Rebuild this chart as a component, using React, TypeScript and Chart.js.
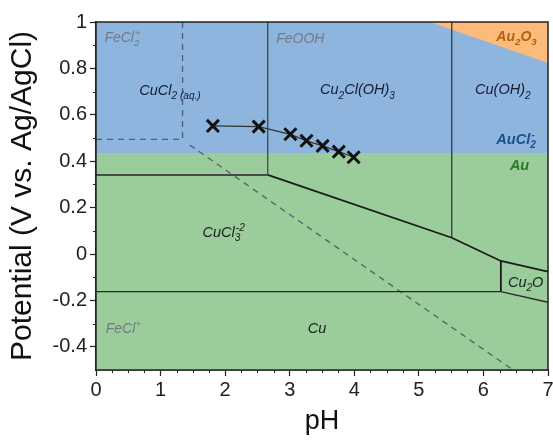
import { useEffect, useRef } from 'react';
import { Chart, registerables } from 'chart.js';

Chart.register(...registerables);

// ---------- axis ticks ----------
const X_TICKS = [0, 1, 2, 3, 4, 5, 6, 7];
const X_TICK_LABELS = ['0', '1', '2', '3', '4', '5', '6', '7'];
const Y_TICKS = [-0.4, -0.2, 0, 0.2, 0.4, 0.6, 0.8, 1];
const Y_TICK_LABELS = ['-0.4', '-0.2', '0', '0.2', '0.4', '0.6', '0.8', '1'];

// ---------- measured points (x markers) ----------
const MEAS_PH = [1.81, 2.52, 3.01, 3.26, 3.51, 3.76, 3.99];
const MEAS_E = [0.552, 0.549, 0.516, 0.488, 0.466, 0.441, 0.417];

// ---------- gold regions ----------
const AU_BOUND_PH = [0, 7];
const AU_BOUND_E = [0.435, 0.435];
const AU2O3_PH = [5.17, 7];
const AU2O3_E = [1, 0.823];

// ---------- copper boundaries (solid) ----------
const CUCL_H_PH = [0, 2.66];
const CUCL_H_E = [0.341, 0.341];
const FEOOH_V_PH = [2.66, 2.66];
const FEOOH_V_E = [1, 0.341];
const CU_DIAG_PH = [2.66, 5.51, 6.27, 7];
const CU_DIAG_E = [0.341, 0.07, -0.03, -0.076];
const CUOH_V_PH = [5.51, 5.51];
const CUOH_V_E = [1, 0.07];
const CU2O_V_PH = [6.27, 6.27];
const CU2O_V_E = [-0.03, -0.162];
const CU_H_PH = [0, 6.27, 7];
const CU_H_E = [-0.162, -0.162, -0.208];

// ---------- iron boundaries (dashed) ----------
const FE_H_PH = [0, 1.34];
const FE_H_E = [0.494, 0.494];
const FE_V_PH = [1.34, 1.34];
const FE_V_E = [1, 0.494];
const FE_DIAG_PH = [1.45, 6.46];
const FE_DIAG_E = [0.47, -0.5];

const pts = (xs: number[], ys: number[]) => xs.map((x, i) => ({ x, y: ys[i] }));

type Seg = { t: string; s?: 'sub' | 'sup' | 'subsup'; t2?: string };
type Lbl = { x: number; y: number; color: string; bold?: boolean; size: number; segs: Seg[] };

const GREY = '#727a84';
const NAVY = '#141c33';
const DARK = '#15201a';

const LABELS: Lbl[] = [
  { x: 0.13, y: 0.914, color: GREY, size: 14, segs: [{ t: 'FeCl' }, { t: '2', s: 'subsup', t2: '+' }] },
  { x: 2.79, y: 0.909, color: GREY, size: 14, segs: [{ t: 'FeOOH' }] },
  { x: 6.2, y: 0.918, color: '#b3600f', bold: true, size: 14, segs: [{ t: 'Au' }, { t: '2', s: 'sub' }, { t: 'O' }, { t: '3', s: 'sub' }] },
  { x: 0.67, y: 0.685, color: NAVY, size: 14.5, segs: [{ t: 'CuCl' }, { t: '2', s: 'sub' }, { t: ' (aq.)', s: 'sub' }] },
  { x: 3.47, y: 0.688, color: NAVY, size: 14.5, segs: [{ t: 'Cu' }, { t: '2', s: 'sub' }, { t: 'Cl(OH)' }, { t: '3', s: 'sub' }] },
  { x: 5.87, y: 0.688, color: NAVY, size: 14.5, segs: [{ t: 'Cu(OH)' }, { t: '2', s: 'sub' }] },
  { x: 6.2, y: 0.474, color: '#1d4f8e', bold: true, size: 14.5, segs: [{ t: 'AuCl' }, { t: '2', s: 'subsup', t2: '-' }] },
  { x: 6.41, y: 0.362, color: '#2c7a2e', bold: true, size: 14.5, segs: [{ t: 'Au' }] },
  { x: 1.65, y: 0.073, color: DARK, size: 14.5, segs: [{ t: 'CuCl' }, { t: '3', s: 'subsup', t2: '-2' }] },
  { x: 6.38, y: -0.142, color: DARK, size: 14.5, segs: [{ t: 'Cu' }, { t: '2', s: 'sub' }, { t: 'O' }] },
  { x: 0.15, y: -0.34, color: GREY, size: 14, segs: [{ t: 'FeCl' }, { t: '+', s: 'sup' }] },
  { x: 3.28, y: -0.34, color: DARK, size: 14.5, segs: [{ t: 'Cu' }] },
];

const FONT = '"Liberation Sans", Arial, sans-serif';

const labelPlugin = {
  id: 'labels',
  afterDatasetsDraw(chart: any) {
    const { ctx, scales } = chart;
    const xs = scales.x;
    const ys = scales.y;
    ctx.save();
    ctx.textBaseline = 'alphabetic';
    ctx.textAlign = 'left';
    for (const l of LABELS) {
      let cx = xs.getPixelForValue(l.x);
      const by = ys.getPixelForValue(l.y);
      const w = l.bold ? 'bold ' : '';
      const big = `italic ${w}${l.size}px ${FONT}`;
      const small = `italic ${w}${(l.size * 0.7).toFixed(1)}px ${FONT}`;
      ctx.fillStyle = l.color;
      for (const s of l.segs) {
        if (!s.s) {
          ctx.font = big;
          ctx.fillText(s.t, cx, by);
          cx += ctx.measureText(s.t).width;
        } else if (s.s === 'sub') {
          ctx.font = small;
          ctx.fillText(s.t, cx, by + l.size * 0.3);
          cx += ctx.measureText(s.t).width;
        } else if (s.s === 'sup') {
          ctx.font = small;
          ctx.fillText(s.t, cx, by - l.size * 0.45);
          cx += ctx.measureText(s.t).width;
        } else {
          ctx.font = small;
          ctx.fillText(s.t, cx, by + l.size * 0.3);
          const w1 = ctx.measureText(s.t).width;
          const t2 = s.t2 || '';
          ctx.fillText(t2, cx + 1, by - l.size * 0.45);
          const w2 = ctx.measureText(t2).width + 1;
          cx += Math.max(w1, w2);
        }
      }
    }
    ctx.restore();
  },
};

const framePlugin = {
  id: 'frame',
  afterDraw(chart: any) {
    const { ctx, chartArea: a, scales } = chart;
    ctx.save();
    ctx.strokeStyle = '#222';
    ctx.lineWidth = 1.5;
    ctx.strokeRect(a.left, a.top, a.right - a.left, a.bottom - a.top);
    // minor ticks
    ctx.lineWidth = 1;
    ctx.beginPath();
    for (let i = 1; i < 28; i++) {
      if (i % 4 === 0) continue;
      const px = Math.round(scales.x.getPixelForValue(i * 0.25)) + 0.5;
      ctx.moveTo(px, a.bottom);
      ctx.lineTo(px, a.bottom + 3);
    }
    for (let i = -4; i < 10; i++) {
      if (i % 2 === 0) continue;
      const py = Math.round(scales.y.getPixelForValue(i * 0.1)) + 0.5;
      ctx.moveTo(a.left, py);
      ctx.lineTo(a.left - 3, py);
    }
    ctx.stroke();
    ctx.restore();
  },
};

const solid = (xs: number[], ys: number[], width: number, color = '#2a2a2a') => ({
  data: pts(xs, ys),
  borderColor: color,
  borderWidth: width,
  pointRadius: 0,
  fill: false,
  tension: 0,
});

const dashed = (xs: number[], ys: number[]) => ({
  data: pts(xs, ys),
  borderColor: 'rgba(60,72,92,0.8)',
  borderWidth: 1.3,
  borderDash: [6, 5],
  pointRadius: 0,
  fill: false,
  tension: 0,
});

export default function App() {
  const ref = useRef<HTMLCanvasElement | null>(null);

  useEffect(() => {
    if (!ref.current) return;
    const chart = new Chart(ref.current, {
      type: 'line',
      data: {
        datasets: [
          {
            data: pts(MEAS_PH, MEAS_E),
            borderColor: '#333',
            borderWidth: 1.3,
            pointStyle: 'crossRot',
            pointRadius: 8.5,
            pointBorderWidth: 3,
            pointBorderColor: '#111',
            pointBackgroundColor: '#111',
            fill: false,
            tension: 0,
          } as any,
          solid(CUCL_H_PH, CUCL_H_E, 2, '#4a4a4a'),
          solid(FEOOH_V_PH, FEOOH_V_E, 1.1, '#333'),
          solid(CU_DIAG_PH, CU_DIAG_E, 1.8, '#1a1a1a'),
          solid(CUOH_V_PH, CUOH_V_E, 1.1, '#222'),
          solid(CU2O_V_PH, CU2O_V_E, 1.8, '#1a1a1a'),
          solid(CU_H_PH, CU_H_E, 1.4, '#2a2a2a'),
          dashed(FE_H_PH, FE_H_E),
          dashed(FE_V_PH, FE_V_E),
          dashed(FE_DIAG_PH, FE_DIAG_E),
          { data: pts(AU2O3_PH, AU2O3_E), borderWidth: 0, pointRadius: 0, fill: 'end', backgroundColor: 'rgb(252,187,122)' } as any,
          { data: pts(AU_BOUND_PH, AU_BOUND_E), borderWidth: 0, pointRadius: 0, fill: 'end', backgroundColor: 'rgb(142,181,221)' } as any,
          { data: pts(AU_BOUND_PH, AU_BOUND_E), borderWidth: 0, pointRadius: 0, fill: 'start', backgroundColor: 'rgb(155,204,155)' } as any,
        ],
      },
      options: {
        animation: false,
        responsive: false,
        devicePixelRatio: 1,
        layout: { autoPadding: false, padding: { top: 22, right: 5, left: 0, bottom: 0 } },
        plugins: { legend: { display: false }, tooltip: { enabled: false } },
        scales: {
          x: {
            type: 'linear',
            min: 0,
            max: 7,
            afterBuildTicks: (s: any) => { s.ticks = X_TICKS.map((v) => ({ value: v })); },
            afterFit: (s: any) => { s.height = 70; s.paddingLeft = 0; s.paddingRight = 0; },
            ticks: {
              callback: (v: any) => {
                const i = X_TICKS.findIndex((t) => Math.abs(t - v) < 1e-6);
                return i >= 0 ? X_TICK_LABELS[i] : '';
              },
              color: '#222',
              font: { family: FONT, size: 20 },
              padding: 2,
              maxRotation: 0,
            },
            grid: { drawOnChartArea: false, drawTicks: true, tickLength: 6, tickColor: '#222', tickWidth: 1.2 },
            border: { color: '#222', width: 1.5 },
            title: { display: true, text: 'pH', color: '#111', font: { family: FONT, size: 27 }, padding: { top: 0, bottom: 2 } },
          },
          y: {
            type: 'linear',
            min: -0.5,
            max: 1,
            afterBuildTicks: (s: any) => { s.ticks = Y_TICKS.map((v) => ({ value: v })); },
            afterFit: (s: any) => { s.width = 96; s.paddingTop = 0; s.paddingBottom = 0; },
            ticks: {
              callback: (v: any) => {
                const i = Y_TICKS.findIndex((t) => Math.abs(t - v) < 1e-6);
                return i >= 0 ? Y_TICK_LABELS[i] : '';
              },
              color: '#222',
              font: { family: FONT, size: 20 },
              padding: 3,
            },
            grid: { drawOnChartArea: false, drawTicks: true, tickLength: 6, tickColor: '#222', tickWidth: 1.2 },
            border: { color: '#222', width: 1.5 },
            title: { display: true, text: 'Potential (V vs. Ag/AgCl)', color: '#111', font: { family: FONT, size: 30 }, padding: { top: 5, bottom: 0 } },
          },
        },
      } as any,
      plugins: [labelPlugin, framePlugin],
    });
    return () => chart.destroy();
  }, []);

  return (
    <div style={{ position: 'fixed', left: 0, top: 0, width: 553, height: 440 }}>
      <canvas ref={ref} width={553} height={440} />
    </div>
  );
}
